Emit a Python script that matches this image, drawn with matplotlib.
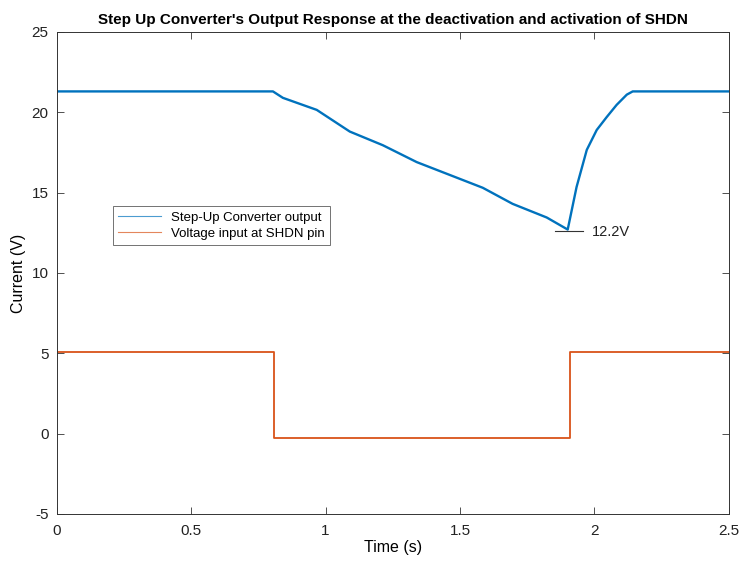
import matplotlib
matplotlib.use("Agg")
import matplotlib.pyplot as plt

plt.rcParams["font.family"] = ["Liberation Sans", "DejaVu Sans"]
plt.rcParams["axes.unicode_minus"] = False

# Step-up converter output
t_out = [0.0, 0.30, 0.60, 0.804, 0.841, 0.967, 1.09, 1.213, 1.339, 1.462,
         1.585, 1.696, 1.823, 1.901, 1.934, 1.972, 2.009, 2.046, 2.083,
         2.121, 2.143, 2.30, 2.50]
v_out = [21.3, 21.3, 21.3, 21.3, 20.9, 20.15, 18.8, 17.95, 16.9, 16.1,
         15.3, 14.3, 13.45, 12.7, 15.35, 17.66, 18.9, 19.7, 20.46,
         21.1, 21.3, 21.3, 21.3]

# Voltage at SHDN pin
t_shdn = [0.0, 0.807, 0.807, 1.908, 1.908, 2.50]
v_shdn = [5.05, 5.05, -0.25, -0.25, 5.05, 5.05]

C_BLUE = "#0072BD"
C_ORANGE = "#D95319"

fig = plt.figure(figsize=(7.39, 5.61), dpi=100)
ax = fig.add_axes([0.077, 0.084, 0.909, 0.859])

ax.plot(t_out, v_out, color=C_BLUE, lw=1.7, label="Step-Up Converter output")
ax.plot(t_shdn, v_shdn, color=C_ORANGE, lw=1.3, label="Voltage input at SHDN pin")

# minimum marker + label
ax.plot([1.853, 1.957], [12.6, 12.6], color="#333333", lw=0.8)
ax.text(1.99, 12.55, "12.2V", fontsize=10.5, va="center", ha="left", color="#222222")

ax.set_xlim(0, 2.5)
ax.set_ylim(-5, 25)
ax.set_xticks([0, 0.5, 1, 1.5, 2, 2.5])
ax.set_xticklabels(["0", "0.5", "1", "1.5", "2", "2.5"])
ax.set_yticks([-5, 0, 5, 10, 15, 20, 25])
ax.tick_params(direction="in", top=True, right=True, labelsize=11,
               length=5, width=0.6, colors="#333333", labelcolor="#222222")
ax.tick_params(axis="x", pad=7)
ax.tick_params(axis="y", pad=6)
for s in ax.spines.values():
    s.set_linewidth(0.7)
    s.set_color("#333333")

ax.set_xlabel("Time (s)", fontsize=11.5, labelpad=2)
ax.set_ylabel("Current (V)", fontsize=11.5, labelpad=4)
ax.set_title("Step Up Converter's Output Response at the deactivation and activation of SHDN",
             fontsize=11, fontweight="bold", pad=6)

leg = ax.legend(loc="upper left", bbox_to_anchor=(0.074, 0.652), fontsize=9.5,
                frameon=True, fancybox=False, edgecolor="#333333",
                handlelength=3.2, borderpad=0.4, labelspacing=0.3)
leg.get_frame().set_linewidth(0.6)
for line in leg.get_lines():
    line.set_linewidth(0.8)
    line.set_alpha(0.7)

fig.savefig("out.png", dpi=100)
